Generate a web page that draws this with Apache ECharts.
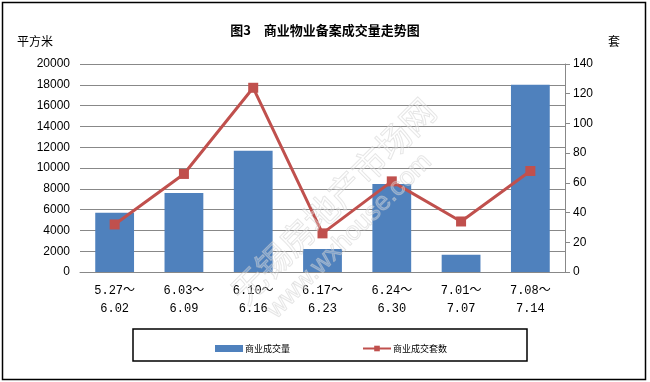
<!DOCTYPE html>
<html>
<head>
<meta charset="utf-8">
<script src="https://cdn.jsdelivr.net/npm/echarts@6/dist/echarts.min.js"></script>
<style>html,body{margin:0;padding:0;background:#fff;}#c{width:650px;height:382px;}</style>
</head>
<body>
<div id="c"></div>
<script>
var categories = ['5.27～\n6.02', '6.03～\n6.09', '6.10～\n6.16', '6.17～\n6.23', '6.24～\n6.30', '7.01～\n7.07', '7.08～\n7.14'];
var areaValues = [5700, 7600, 11650, 2200, 8450, 1650, 18000];
var unitValues = [32, 66, 124, 26, 61, 34, 68];
var leftTicks = { min: 0, max: 20000, interval: 2000 };
var rightTicks = { min: 0, max: 140, interval: 20 };
var seriesNames = ['商业成交量', '商业成交套数'];

var chart = echarts.init(document.getElementById('c'));
var baseFont = "'Liberation Sans','Noto Sans CJK SC',sans-serif";
chart.setOption({
  animation: false,
  backgroundColor: '#fff',
  title: {
    text: '图3　商业物业备案成交量走势图',
    left: 'center', top: 19,
    textStyle: { fontSize: 13, fontWeight: 'bold', color: '#000', fontFamily: "'Noto Sans CJK SC',sans-serif" }
  },
  grid: { left: 80, right: 85, top: 64, bottom: 110, containLabel: false },
  legend: {
    left: 210, top: 339, itemGap: 72, itemWidth: 28, itemHeight: 7,
    textStyle: { fontSize: 9, color: '#000', fontFamily: "'Noto Sans CJK SC',sans-serif", padding: [0, 0, 0, -3] },
    data: [
      { name: seriesNames[0], icon: 'rect' },
      { name: seriesNames[1] }
    ]
  },
  xAxis: {
    type: 'category', data: categories,
    axisLine: { lineStyle: { color: '#888', width: 1 } },
    axisTick: { show: false },
    axisLabel: { interval: 0, fontSize: 12, lineHeight: 18, margin: 10, color: '#000', fontFamily: "'Liberation Mono','Noto Sans CJK SC',monospace" }
  },
  yAxis: [
    {
      type: 'value', min: leftTicks.min, max: leftTicks.max, interval: leftTicks.interval,
      axisLine: { show: false }, axisTick: { show: false },
      splitLine: { lineStyle: { color: '#888', width: 1 } },
      axisLabel: { fontSize: 12, color: '#000', margin: 10, fontFamily: baseFont, formatter: function (v) { return String(v); } }
    },
    {
      type: 'value', min: rightTicks.min, max: rightTicks.max, interval: rightTicks.interval,
      axisLine: { show: true, lineStyle: { color: '#888', width: 1 } },
      axisTick: { show: true, length: 5, lineStyle: { color: '#888' } },
      splitLine: { show: false },
      axisLabel: { fontSize: 12, color: '#000', margin: 8, fontFamily: baseFont, formatter: function (v) { return String(v); } }
    }
  ],
  graphic: [
    { type: 'rect', shape: { x: 2.5, y: 2.5, width: 643, height: 377 }, style: { fill: 'none', stroke: '#000', lineWidth: 1.5 }, silent: true },
    { type: 'rect', shape: { x: 133, y: 329, width: 394, height: 32 }, style: { fill: 'none', stroke: '#000', lineWidth: 1.5 }, silent: true },
    { type: 'text', left: 17, top: 35, style: { text: '平方米', font: "12px 'Noto Sans CJK SC'", fill: '#000' } },
    { type: 'text', left: 608, top: 35, style: { text: '套', font: "12px 'Noto Sans CJK SC'", fill: '#000' } },
    { type: 'text', x: 225, y: 285, rotation: Math.PI / 4, z: 100, silent: true, style: { text: '无锡房地产市场网', font: "34px 'Noto Sans CJK SC'", fill: 'rgba(255,255,255,0.25)', stroke: 'rgba(200,200,200,0.5)', lineWidth: 1 } },
    { type: 'text', x: 262, y: 305, rotation: Math.PI / 4, z: 100, silent: true, style: { text: 'www.wxhouse.com', font: "26px 'Liberation Sans'", fill: 'rgba(255,255,255,0.25)', stroke: 'rgba(200,200,200,0.5)', lineWidth: 1 } }
  ],
  series: [
    {
      name: seriesNames[0], type: 'bar', data: areaValues, yAxisIndex: 0,
      barCategoryGap: '44%', itemStyle: { color: '#4F81BD' }
    },
    {
      name: seriesNames[1], type: 'line', data: unitValues, yAxisIndex: 1,
      symbol: 'rect', symbolSize: 10,
      lineStyle: { color: '#C0504D', width: 3 },
      itemStyle: { color: '#C0504D' }
    }
  ]
});
</script>
</body>
</html>
